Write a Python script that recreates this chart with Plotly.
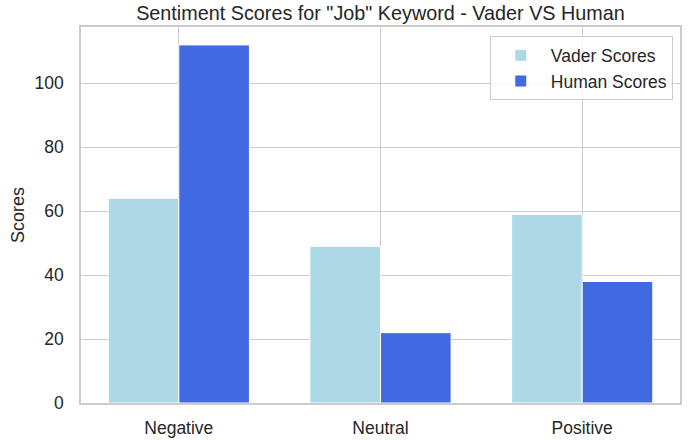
import plotly.graph_objects as go

categories = ["Negative", "Neutral", "Positive"]
vader_scores = [64, 49, 59]
human_scores = [112, 22, 38]
y_ticks = [0, 20, 40, 60, 80, 100]

TXT = "#262626"
GRID = "#cccccc"
FONT = "Liberation Sans, Arial, sans-serif"

W, H = 689, 440

fig = go.Figure()
fig.add_trace(go.Bar(x=categories, y=vader_scores, name="Vader Scores",
                     marker=dict(color="#ADD8E6", line=dict(color="white", width=1))))
fig.add_trace(go.Bar(x=categories, y=human_scores, name="Human Scores",
                     marker=dict(color="#4169E1", line=dict(color="white", width=1))))

fig.update_layout(
    width=W, height=H,
    margin=dict(l=81, r=9, t=27, b=37, autoexpand=False),
    paper_bgcolor="white", plot_bgcolor="white",
    font=dict(family=FONT, size=17.5, color=TXT),
    barmode="group", bargap=0.3, bargroupgap=0,
    title=dict(text='Sentiment Scores for "Job" Keyword - Vader VS Human',
               xref="paper", x=0.5, xanchor="center",
               yref="container", y=1 - 13 / H, yanchor="middle",
               font=dict(size=19.8, color=TXT)),
    legend=dict(x=0.988, xanchor="right", y=0.975, yanchor="top",
                bgcolor="rgba(255,255,255,0.8)", bordercolor=GRID, borderwidth=1,
                font=dict(size=17.5, color=TXT), itemwidth=50),
    showlegend=True,
)
fig.update_xaxes(range=[-0.485, 2.485], showgrid=True, gridcolor=GRID, gridwidth=1,
                 showline=True, linecolor=GRID, linewidth=1.5, mirror=True,
                 automargin=False,
                 ticks="", ticklabelstandoff=8, tickfont=dict(size=17.5, color=TXT))
fig.update_yaxes(range=[0, 117.6], tickvals=y_ticks, showgrid=True, gridcolor=GRID,
                 gridwidth=1, showline=True, linecolor=GRID, linewidth=1.5, mirror=True,
                 zeroline=False, ticks="", ticklabelstandoff=12, automargin=False,
                 tickfont=dict(size=17.5, color=TXT),
                 title=dict(text="Scores", font=dict(size=18, color=TXT), standoff=5))

# remove the default 8px body margin so the figure fills the window exactly
fig.write_html("out.html", config={"displayModeBar": False},
               post_script="document.body.style.margin='0px';")
